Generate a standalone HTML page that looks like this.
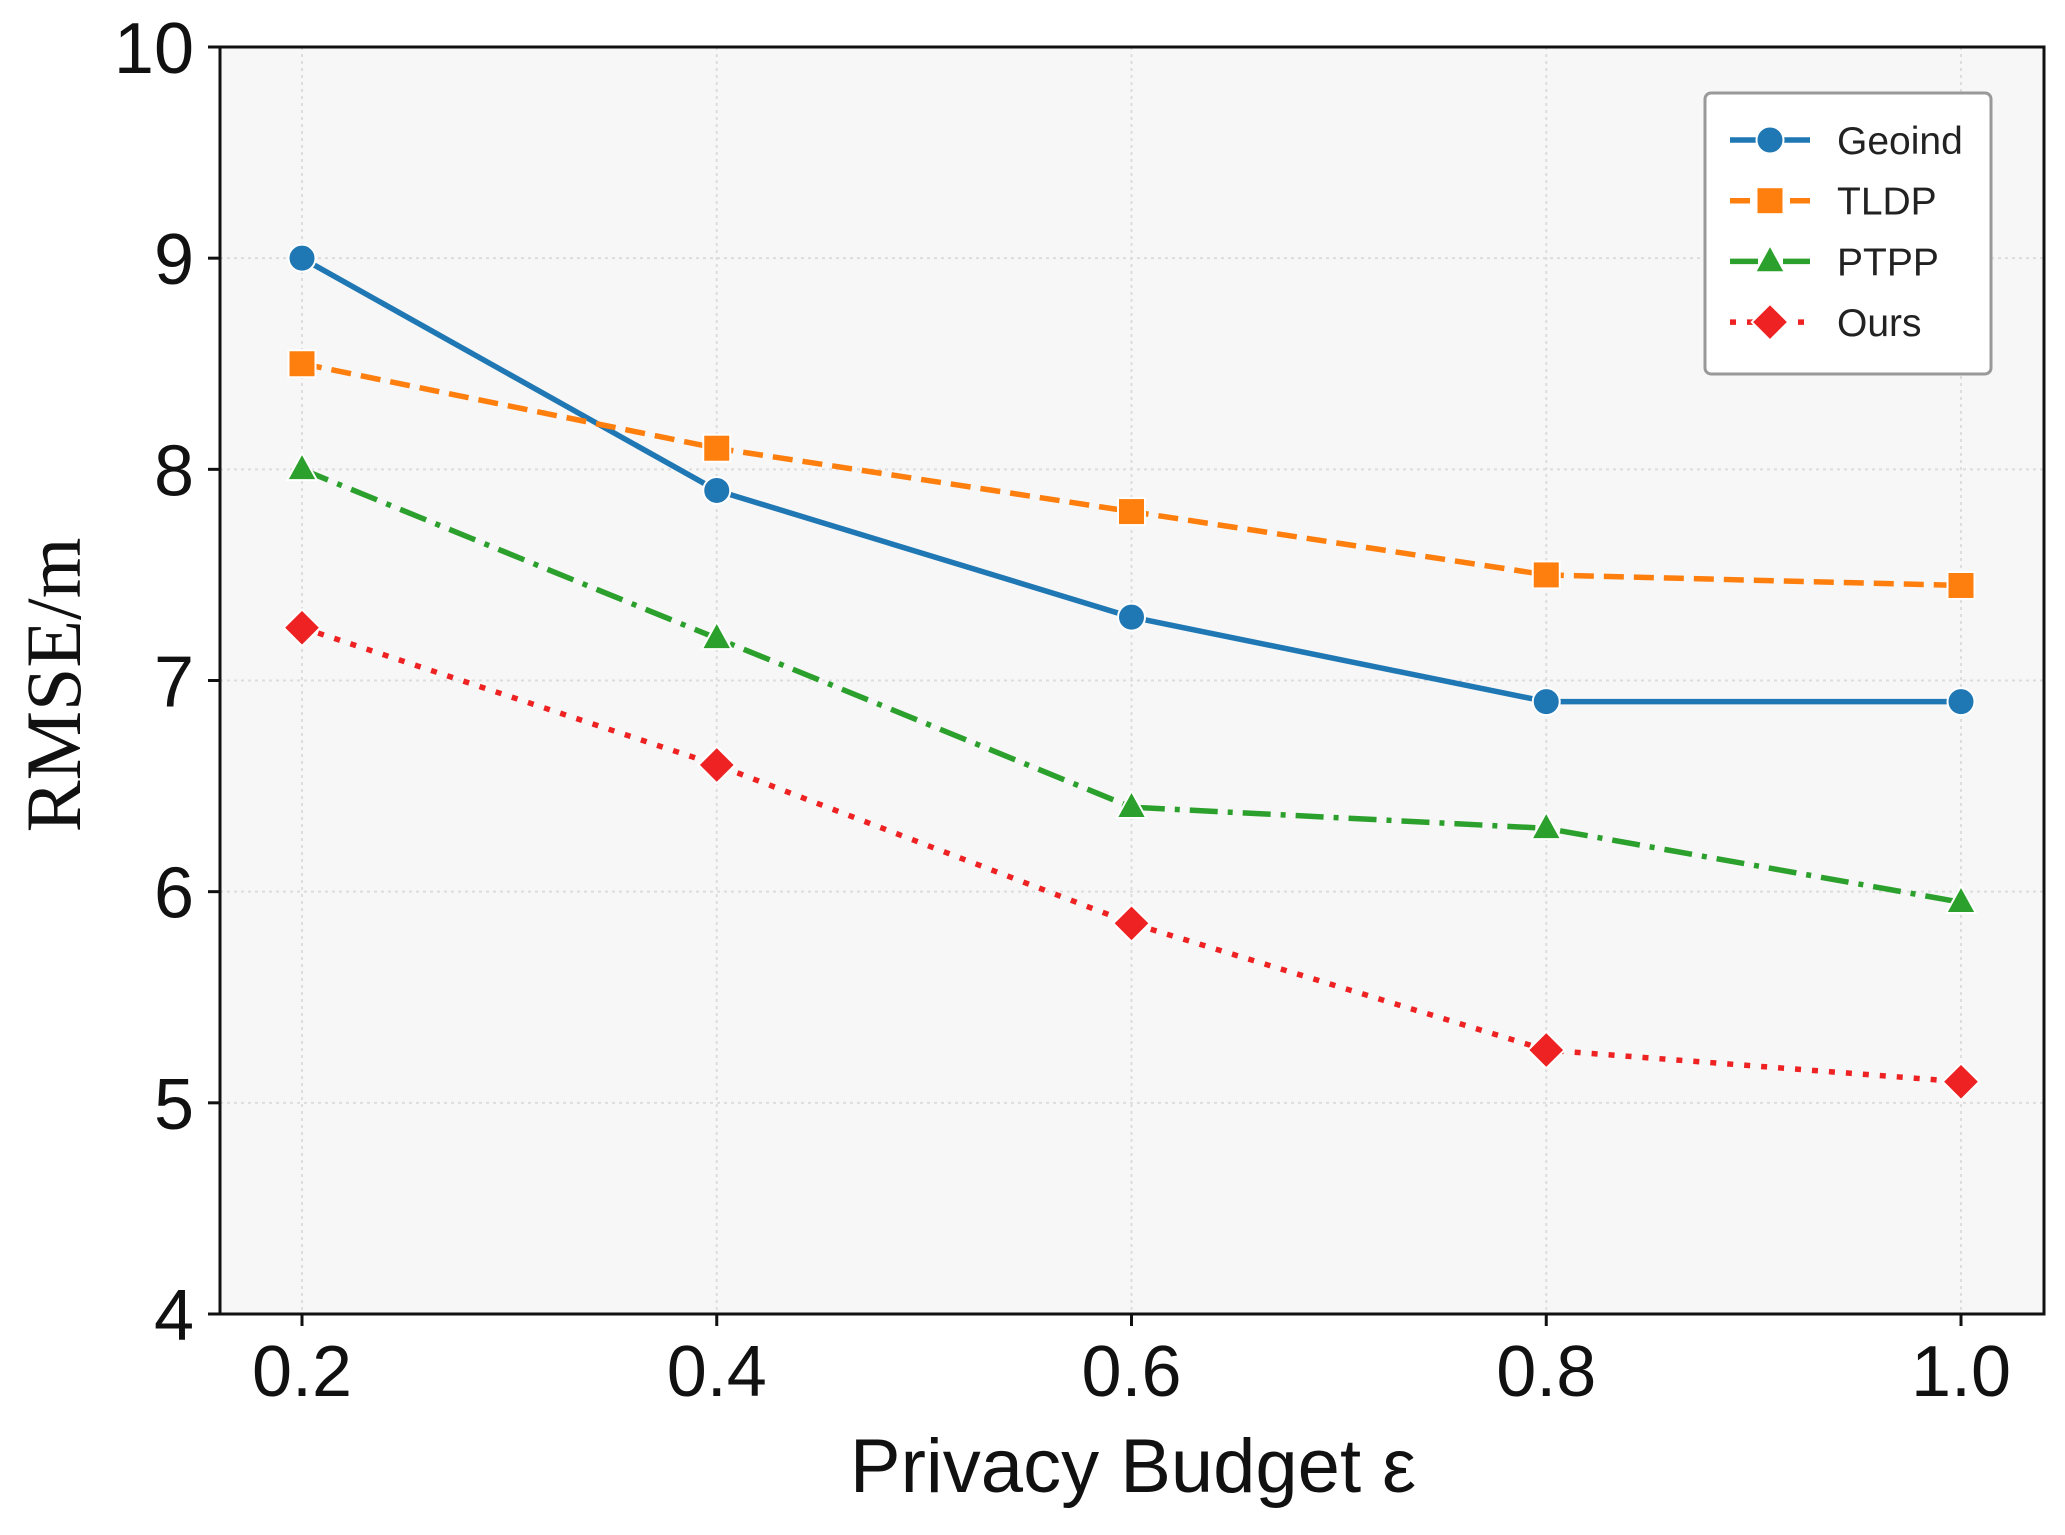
<!DOCTYPE html>
<html><head><meta charset="utf-8"><style>
html,body{margin:0;padding:0;background:#fff;}
svg{display:block;}
</style></head><body>
<svg id="chart" width="2065" height="1535" viewBox="0 0 2065 1535" xmlns="http://www.w3.org/2000/svg">
<rect x="220" y="47" width="1824" height="1267" fill="#f7f7f7"/>
<g id="grid"></g>
<g id="series"></g>
<rect x="220" y="47" width="1824" height="1267" fill="none" stroke="#111" stroke-width="3"/>
<g id="ticks"></g>
<text x="1133" y="1492" text-anchor="middle" font-family="Liberation Sans, sans-serif" font-size="76" fill="#111">Privacy Budget ε</text>
<text transform="translate(80,685) rotate(-90)" text-anchor="middle" font-family="Liberation Serif, serif" font-size="78" fill="#111">RMSE/m</text>
<g id="legend">
<rect x="1705" y="93" width="286" height="281" rx="6" fill="#fff" stroke="#999" stroke-width="3"/>
</g>
</svg>
<script>
const categories=[0.2,0.4,0.6,0.8,1.0];
const xTickLabels=["0.2","0.4","0.6","0.8","1.0"];
const yTicks=[4,5,6,7,8,9,10];
const geoind=[9.0,7.9,7.3,6.9,6.9];
const tldp=[8.5,8.1,7.8,7.5,7.45];
const ptpp=[8.0,7.2,6.4,6.3,5.95];
const ours=[7.25,6.6,5.85,5.25,5.1];
const seriesNames=["Geoind","TLDP","PTPP","Ours"];

const NS="http://www.w3.org/2000/svg";
function X(v){return 302+(v-0.2)/0.8*(1961-302);}
function Y(v){return 1314-(v-4)/6*(1314-47);}
function mk(tag,attrs,parent){const e=document.createElementNS(NS,tag);for(const k in attrs)e.setAttribute(k,attrs[k]);parent.appendChild(e);return e;}
const grid=document.getElementById('grid'),ticks=document.getElementById('ticks'),ser=document.getElementById('series'),leg=document.getElementById('legend');
yTicks.forEach(t=>{
  const g=mk('line',{x1:220,x2:2044,y1:Y(t),y2:Y(t),stroke:'#ddd','stroke-width':2,'stroke-dasharray':'3 4'},grid);
  
  
  const tk=mk('line',{x1:208,x2:220,y1:Y(t),y2:Y(t),stroke:'#111','stroke-width':3},ticks);
  
  
  const tx=mk('text',{x:194,y:Y(t)+26,'text-anchor':'end','font-family':'Liberation Sans, sans-serif','font-size':72,fill:'#111'},ticks);
  tx.textContent=t;
  
  
});
categories.forEach((c,i)=>{
  const g=mk('line',{x1:X(c),x2:X(c),y1:47,y2:1314,stroke:'#ddd','stroke-width':2,'stroke-dasharray':'3 4'},grid);
  
  
  const tk=mk('line',{x1:X(c),x2:X(c),y1:1314,y2:1326,stroke:'#111','stroke-width':3},ticks);
  
  
  const tx=mk('text',{x:X(c),y:1396,'text-anchor':'middle','font-family':'Liberation Sans, sans-serif','font-size':72,fill:'#111'},ticks);
  tx.textContent=xTickLabels[i];
  
  
});
function marker(type,x,y,color,parent,s){
  let e;
  if(type==='circle')e=mk('circle',{cx:x,cy:y,r:s,fill:color,stroke:'#fff','stroke-width':2},parent);
  else if(type==='square')e=mk('rect',{x:x-s,y:y-s,width:2*s,height:2*s,fill:color,stroke:'#fff','stroke-width':2},parent);
  else if(type==='triangle')e=mk('polygon',{points:`${x},${y-s*1.2} ${x+s*1.1},${y+s*0.8} ${x-s*1.1},${y+s*0.8}`,fill:color,stroke:'#fff','stroke-width':2},parent);
  else e=mk('polygon',{points:`${x},${y-s*1.35} ${x+s*1.35},${y} ${x},${y+s*1.35} ${x-s*1.35},${y}`,fill:color,stroke:'#fff','stroke-width':2},parent);
  return e;
}
const defs=[
 {name:'geoind',vals:geoind,color:'#1f77b4',dash:'',m:'circle'},
 {name:'tldp',vals:tldp,color:'#ff7f0e',dash:'20 10',m:'square'},
 {name:'ptpp',vals:ptpp,color:'#2ca02c',dash:'28 10 5 10',m:'triangle'},
 {name:'ours',vals:ours,color:'#ee2222',dash:'6 11',m:'diamond'}
];
defs.forEach((d,si)=>{
  const pts=d.vals.map((v,i)=>X(categories[i])+','+Y(v)).join(' ');
  const pl=mk('polyline',{points:pts,fill:'none',stroke:d.color,'stroke-width':5.5,'stroke-dasharray':d.dash},ser);
  
  
  d.vals.forEach((v,i)=>{
    const m=marker(d.m,X(categories[i]),Y(v),d.color,ser,13.5);
    
    
  });
  const ly=140+si*60.7;
  const ll=mk('line',{x1:1730,x2:1810,y1:ly,y2:ly,stroke:d.color,'stroke-width':5.5,'stroke-dasharray':d.dash},leg);
  
  
  const lm=marker(d.m,1770,ly,d.color,leg,13.5);
  
  
  const lt=mk('text',{x:1837,y:ly+14,'font-family':'Liberation Sans, sans-serif','font-size':39,fill:'#222'},leg);
  lt.textContent=seriesNames[si];
  
  
});
</script>
</body></html>
